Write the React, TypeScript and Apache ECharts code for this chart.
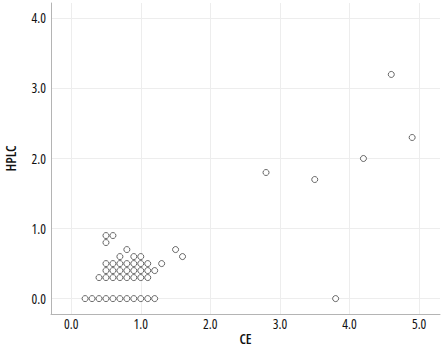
import React, { useEffect, useRef } from "react";
import * as echarts from "echarts";

// CE (x) and HPLC (y) values, paired by index
const ceValues: number[] = [
  0.2, 0.3, 0.4, 0.5, 0.6, 0.7, 0.8, 0.9, 1.0, 1.1, 1.2,
  0.4, 0.5, 0.6, 0.7, 0.8, 0.9, 1.0, 1.1,
  0.5, 0.6, 0.7, 0.8, 0.9, 1.0, 1.1, 1.2,
  0.5, 0.6, 0.7, 0.8, 0.9, 1.0, 1.1, 1.3,
  0.7, 0.9, 1.0, 1.6,
  0.8, 1.5,
  0.5, 0.5, 0.6,
  2.8, 3.5, 3.8, 4.2, 4.6, 4.9,
];
const hplcValues: number[] = [
  0, 0, 0, 0, 0, 0, 0, 0, 0, 0, 0,
  0.3, 0.3, 0.3, 0.3, 0.3, 0.3, 0.3, 0.3,
  0.4, 0.4, 0.4, 0.4, 0.4, 0.4, 0.4, 0.4,
  0.5, 0.5, 0.5, 0.5, 0.5, 0.5, 0.5, 0.5,
  0.6, 0.6, 0.6, 0.6,
  0.7, 0.7,
  0.8, 0.9, 0.9,
  1.8, 1.7, 0.0, 2.0, 3.2, 2.3,
];
const xTicks: number[] = [0, 1, 2, 3, 4, 5];
const yTicks: number[] = [0, 1, 2, 3, 4];

const FONT = "'Open Sans', sans-serif;font-stretch:condensed";

export default function App() {
  const ref = useRef<HTMLDivElement>(null);
  useEffect(() => {
    if (!ref.current) return;
    const chart = echarts.init(ref.current, undefined, { renderer: "svg" });
    const data = ceValues.map((x, i) => [x, hplcValues[i]]);
    const labelStyle = {
      fontFamily: FONT,
      fontSize: 13.5,
      color: "#111111",
    };
    const nameStyle = { ...labelStyle, fontSize: 14, fontWeight: 600 };
    const axisCommon = {
      nameLocation: "middle" as const,
      axisLine: { show: true, onZero: false, lineStyle: { color: "#b4b4b4", width: 1 } },
      splitLine: { show: true, lineStyle: { color: "#ededed", width: 1 } },
    };
    chart.setOption({
      animation: false,
      backgroundColor: "#ffffff",
      grid: { left: 51, top: 3, right: 4, bottom: 41, containLabel: false, outerBoundsMode: "none" },
      xAxis: {
        ...axisCommon,
        type: "value",
        name: "CE",
        nameGap: 19,
        nameTextStyle: nameStyle,
        min: -0.29,
        max: 5.3,
        axisTick: { show: false, customValues: xTicks },
        axisLabel: {
          ...labelStyle,
          customValues: xTicks,
          formatter: (v: number) => v.toFixed(1),
          margin: 5,
        },
      },
      yAxis: {
        ...axisCommon,
        type: "value",
        name: "HPLC",
        nameGap: 36,
        nameTextStyle: nameStyle,
        min: -0.22,
        max: 4.22,
        axisTick: { show: false, customValues: yTicks },
        axisLabel: {
          ...labelStyle,
          customValues: yTicks,
          formatter: (v: number) => v.toFixed(1),
          margin: 5,
        },
      },
      series: [
        {
          type: "scatter",
          data,
          symbol: "circle",
          symbolSize: 6,
          itemStyle: { color: "#ffffff", borderColor: "#444444", borderWidth: 1 },
        },
      ],
    });
    return () => chart.dispose();
  }, []);
  return (
    <div
      ref={ref}
      style={{ position: "fixed", left: 0, top: 0, width: 444, height: 355 }}
    />
  );
}
